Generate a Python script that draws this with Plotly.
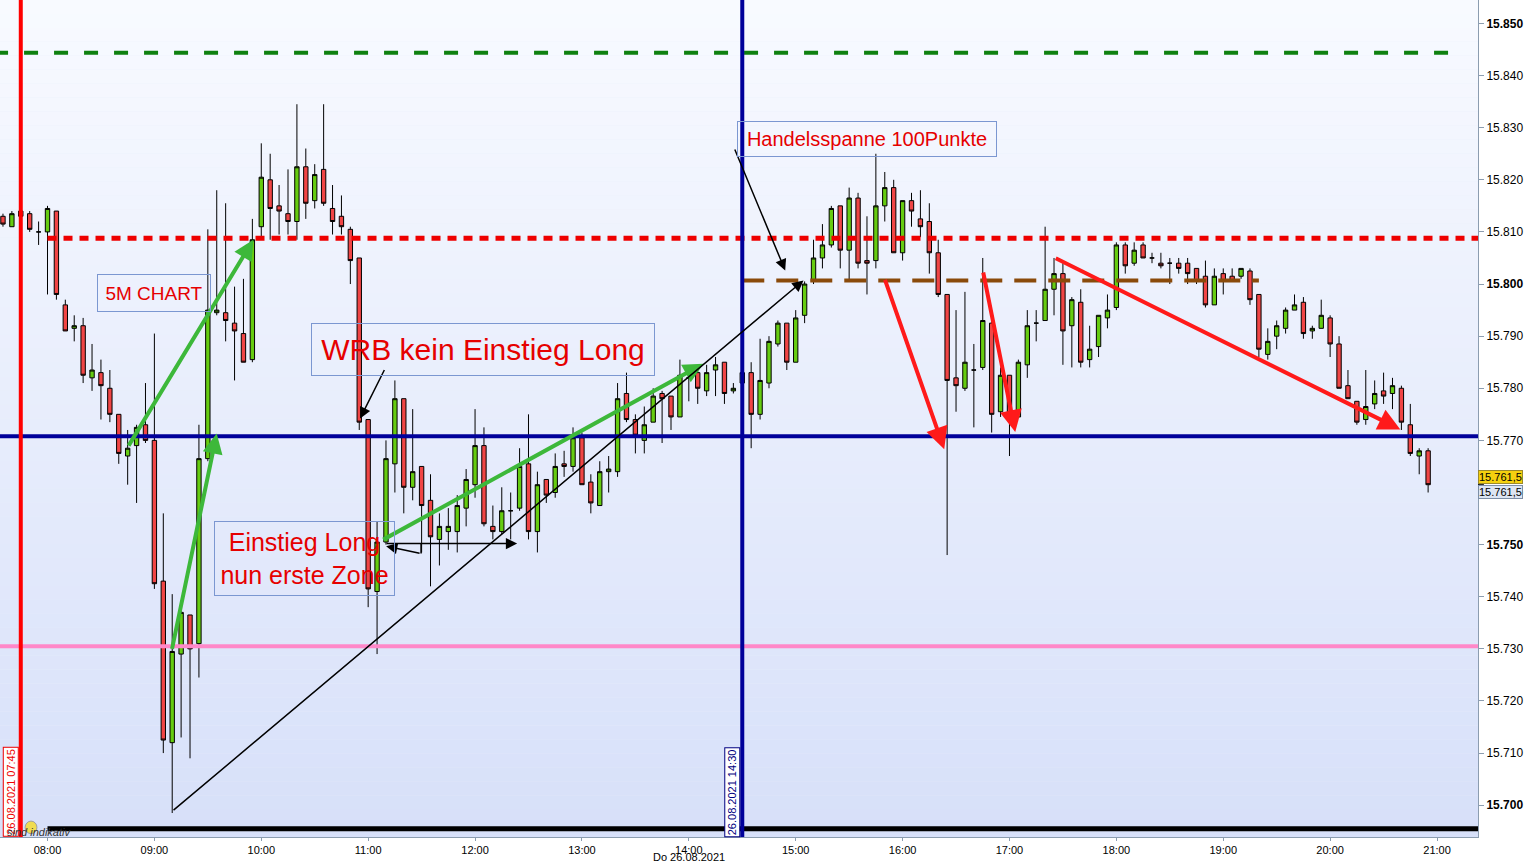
import pandas as pd
import plotly.graph_objects as go

DAY = "2021-08-26 "
FONT = "Liberation Sans, Arial, sans-serif"

# 5-Minuten-Kerzen 26.08.2021, erste Kerze 07:35, letzte 20:55
opens = [15813, 15811, 15814, 15813.5, 15810, 15810, 15814, 15796, 15791.5, 15792,
         15782, 15783, 15780, 15775, 15767, 15769, 15773, 15770, 15743, 15712,
         15729, 15736.5, 15731, 15766.5, 15794.5, 15794.5, 15792.5, 15790.5, 15785.5, 15811,
         15820, 15815, 15813.5, 15812, 15822.5, 15816, 15822, 15814.5, 15813, 15810.5,
         15805, 15774, 15741, 15750.5, 15765.5, 15778, 15761, 15765, 15758.5, 15751,
         15752.5, 15752.5, 15757, 15761.5, 15769, 15753.5, 15752.5, 15756.5, 15757, 15765.5,
         15752.5, 15762.5, 15760, 15765.5, 15765, 15770.5, 15762, 15757.5, 15764, 15764,
         15779, 15774, 15770, 15773.5, 15779, 15778.5, 15774.5, 15782, 15783, 15779.5,
         15783.5, 15785, 15779.5, 15781, 15783, 15775, 15781, 15788.5, 15792.5, 15785,
         15794, 15800.5, 15805, 15807.5, 15815, 15806.5, 15816.5, 15804.5, 15804.5, 15815,
         15818.5, 15806, 15816, 15812.5, 15812, 15806, 15798, 15782, 15780, 15783.5,
         15784, 15792.5, 15775.5, 15782.5, 15774.5, 15784.5, 15792.5, 15793, 15799, 15802,
         15792, 15796.5, 15785.5, 15788, 15793.5, 15795.5, 15807.5, 15804, 15807.5, 15805,
         15804, 15804, 15804, 15804, 15803, 15801.5, 15796, 15802, 15801.5, 15801.5,
         15802.5, 15798, 15786.5, 15790, 15791.5, 15795, 15796.5, 15791, 15791.5, 15793.5,
         15788.5, 15780.5, 15777.5, 15774, 15777, 15779.5, 15779, 15780, 15773, 15767,
         15768]
highs = [15813.5, 15814, 15814, 15814, 15812, 15815, 15814, 15797, 15794, 15793.5,
         15788.5, 15785.5, 15783.5, 15775, 15772, 15773, 15781, 15790.5, 15756, 15740.5,
         15737.5, 15736.5, 15773, 15810.5, 15818, 15815.5, 15799.5, 15801, 15812.5, 15827,
         15825, 15819, 15822, 15834.5, 15826, 15823, 15834.5, 15819, 15817, 15811,
         15805, 15774, 15754.5, 15770, 15781.5, 15778, 15776, 15765, 15763.5, 15756,
         15757, 15759.5, 15764.5, 15776, 15772.5, 15757.5, 15761, 15760, 15768.5, 15775,
         15764, 15762.5, 15767.5, 15768, 15772.5, 15771.5, 15763.5, 15766, 15767, 15781,
         15783, 15775, 15776.5, 15780, 15779.5, 15778.5, 15785.5, 15784, 15784, 15784.5,
         15786, 15785, 15781, 15783.5, 15785, 15789.5, 15790, 15793, 15792.5, 15795,
         15800.5, 15808.5, 15811.5, 15815, 15815, 15818.5, 15817.5, 15813, 15825, 15821.5,
         15820, 15816, 15817.5, 15818, 15815.5, 15808.5, 15798, 15795, 15798.5, 15788.5,
         15805, 15793, 15784, 15782.5, 15785.5, 15795, 15795, 15811, 15805, 15804,
         15797.5, 15799, 15792, 15794, 15798, 15808, 15808, 15808, 15808, 15806,
         15806, 15805, 15805, 15805, 15803, 15804.5, 15803, 15803, 15803, 15803,
         15803, 15798, 15791.5, 15793, 15795.5, 15798, 15797.5, 15792, 15797, 15794,
         15790, 15783.5, 15777.5, 15783.5, 15781.5, 15783, 15782, 15780.5, 15777, 15768.5,
         15768.5]
lows = [15811, 15811, 15813, 15810, 15807.5, 15798, 15797, 15791, 15789, 15781,
        15779.5, 15774, 15773.5, 15765.5, 15761.5, 15758, 15769.5, 15741.5, 15710, 15698.5,
        15713, 15709, 15724.5, 15766, 15794, 15789, 15781.5, 15785, 15785, 15809,
        15808.5, 15809.5, 15809.5, 15808.5, 15812.5, 15814.5, 15815, 15809.5, 15809.5, 15800,
        15772, 15738, 15729, 15750, 15760, 15756, 15758.5, 15748.5, 15742, 15746,
        15749, 15748.5, 15753.5, 15759, 15753.5, 15751, 15752, 15751, 15756.5, 15751,
        15748.5, 15758, 15759, 15763, 15764, 15761.5, 15756, 15757.5, 15760, 15763,
        15773.5, 15767.5, 15767.5, 15773.5, 15769.5, 15772, 15774.5, 15777.5, 15777, 15778.5,
        15778.5, 15777, 15779, 15780, 15768.5, 15774, 15780, 15788, 15783.5, 15785,
        15792.5, 15800, 15803, 15807, 15803, 15800.5, 15803, 15798, 15803, 15812,
        15806, 15804.5, 15811, 15809, 15802, 15797.5, 15748, 15775.5, 15779.5, 15772.5,
        15783.5, 15771.5, 15774.5, 15767, 15774.5, 15782, 15789, 15793, 15794, 15784.5,
        15784, 15784, 15784, 15786, 15791.5, 15795, 15802, 15803.5, 15805, 15804,
        15803, 15800, 15802, 15800, 15800, 15795.5, 15796, 15798, 15800.5, 15801,
        15796, 15786, 15785.5, 15787.5, 15790.5, 15795, 15789.5, 15789.5, 15791.5, 15786,
        15780, 15778, 15773, 15773, 15776, 15777, 15776, 15772, 15767, 15763.5,
        15760]
closes = [15811.5, 15813.5, 15813, 15810.5, 15810, 15814.5, 15798, 15791, 15792, 15782.5,
          15783.5, 15780.5, 15775, 15767.5, 15768.5, 15772.5, 15770, 15742.5, 15712.5, 15729.5,
          15737, 15730, 15766.5, 15795, 15795, 15793, 15791, 15785, 15808.5, 15820.5,
          15814.5, 15814, 15812, 15822.5, 15815.5, 15821, 15815.5, 15812, 15811, 15804.5,
          15773.5, 15741.5, 15750.5, 15766.5, 15778, 15761, 15764, 15757.5, 15751.5, 15753.5,
          15753.5, 15757.5, 15762.5, 15769, 15754, 15752.5, 15756.5, 15756.5, 15765, 15752.5,
          15761.5, 15759.5, 15765, 15765, 15770.5, 15761.5, 15758, 15764, 15764.5, 15778,
          15774, 15771, 15773, 15778.5, 15778, 15774.5, 15782.5, 15782, 15780, 15783,
          15784.5, 15779, 15780, 15783, 15775, 15781.5, 15789, 15792.5, 15785, 15793.5,
          15800, 15805, 15807.5, 15814.5, 15806.5, 15816.5, 15804, 15804, 15815, 15818.5,
          15806, 15816, 15814, 15811, 15806, 15798, 15781.5, 15780.5, 15785, 15783.5,
          15793, 15775, 15782.5, 15775, 15785, 15792, 15792.5, 15799, 15802, 15791,
          15797, 15785, 15787.5, 15794, 15795, 15807.5, 15803.5, 15806.5, 15805, 15805,
          15803.5, 15804, 15803, 15802, 15800.5, 15796, 15801.5, 15800.5, 15800.5, 15803,
          15797, 15787.5, 15789, 15792, 15795, 15796, 15790.5, 15791.5, 15794, 15788.5,
          15780, 15778, 15773.5, 15776.5, 15779, 15778.5, 15780.5, 15773.5, 15767.5, 15768,
          15761.5]
bar_times = pd.date_range(DAY + "07:35", periods=len(opens), freq="5min")

# horizontale Linien
level_prices = [15844.4, 15808.8, 15800.7, 15770.8, 15730.5, 15695.5]
level_start = ["07:30", "08:00", "14:30", "07:30", "07:30", "08:00"]
level_end = ["21:11", "21:30", "19:20", "21:30", "21:30", "21:30"]
level_colours = ["#0f800f", "#ee0000", "#8a4a0a", "#00009a", "#ff88c8", "#000000"]
level_widths = [4, 5, 4, 4, 4, 5]
level_dashes = ["14px,16px", "9px,7px", "22px,12px", "solid", "solid", "solid"]

# vertikale Markierungen
marker_times = ["07:45", "14:30"]
marker_colours = ["#ff0000", "#00009a"]
marker_labels = ["26.08.2021 07:45", "26.08.2021 14:30"]
marker_text_colours = ["#ee0000", "#000080"]

# Pfeile: (Startzeit, Startkurs, Endzeit, Endkurs)
green_arrows = [("08:45:02", 15768.7, "09:55:33", 15808.5),
                ("09:09:44", 15729.7, "09:35:00", 15771.3),
                ("11:07:38", 15750.8, "14:08:13", 15784.7)]
red_arrows = [("15:49:50", 15801.1, "16:23:22", 15768.3),
              ("16:45:06", 15802.5, "17:03:14", 15771.6),
              ("17:25:08", 15805.1, "20:39:24", 15772.1)]
black_arrows = [("09:09:54", 15698.8, "15:04:22", 15800.7),
                ("14:25:28", 15826.1, "14:54:06", 15802.6),
                ("11:09:30", 15783.8, "10:55:28", 15774.2),
                ("11:09:30", 15750.2, "12:23:37", 15750.2),
                ("11:29:42", 15748.3, "11:10:04", 15749.7)]
black_segments = [("11:29:42", 15750.2, "11:29:42", 15748.3)]

# Textfelder
box_texts = ["5M CHART", "WRB kein Einstieg Long", "Einstieg Long<br>nun erste Zone",
             "Handelsspanne 100Punkte"]
box_times = ["08:59:48", "12:04:30", "10:24:18", "15:40:06"]
box_prices = [15798.2, 15787.4, 15747.3, 15827.8]
box_widths = [114, 344, 181, 260]
box_heights = [38, 53, 75, 36]
box_font_sizes = [19, 30, 25, 20]

hour_ticks = ["08:00", "09:00", "10:00", "11:00", "12:00", "13:00", "14:00",
              "15:00", "16:00", "17:00", "18:00", "19:00", "20:00", "21:00"]
y_ticks = [15700, 15710, 15720, 15730, 15740, 15750, 15760, 15770, 15780,
           15790, 15800, 15810, 15820, 15830, 15840, 15850]


def de_number(value, decimals=0):
    """Zahl im deutschen Format, z.B. 15.761,5"""
    s = f"{value:,.{decimals}f}"
    return s.replace(",", "X").replace(".", ",").replace("X", ".")


y_labels = []
for v in y_ticks:
    if v % 50 == 0:
        y_labels.append("<b>" + de_number(v) + "</b>")
    else:
        y_labels.append(de_number(v))

fig = go.Figure()

# Hintergrundverlauf
top_rgb = (248, 250, 255)
bottom_rgb = (215, 224, 249)
n_bands = 60
for i in range(n_bands):
    f = i / (n_bands - 1)
    rgb = [round(top_rgb[k] + (bottom_rgb[k] - top_rgb[k]) * f) for k in range(3)]
    fig.add_shape(type="rect", xref="paper", yref="paper", x0=0, x1=1,
                  y0=1 - (i + 1) / n_bands, y1=1 - i / n_bands,
                  fillcolor="rgb(%d,%d,%d)" % tuple(rgb), line_width=0, layer="below")

fig.add_trace(go.Candlestick(x=bar_times, open=opens, high=highs, low=lows, close=closes,
                             increasing=dict(fillcolor="#66cc11", line=dict(color="black", width=1)),
                             decreasing=dict(fillcolor="#f04545", line=dict(color="black", width=1)),
                             whiskerwidth=0, hoverinfo="x+y"))

# Linien
for p, t0, t1, col, w, d in zip(level_prices, level_start, level_end, level_colours,
                                level_widths, level_dashes):
    fig.add_shape(type="line", xref="x", yref="y", x0=DAY + t0, x1=DAY + t1, y0=p, y1=p,
                  line=dict(color=col, width=w, dash=d))

for t, col in zip(marker_times, marker_colours):
    fig.add_shape(type="line", xref="x", yref="paper", x0=DAY + t, x1=DAY + t, y0=0, y1=1,
                  line=dict(color=col, width=4))

for t0, p0, t1, p1 in black_segments:
    fig.add_shape(type="line", xref="x", yref="y", x0=DAY + t0, x1=DAY + t1, y0=p0, y1=p1,
                  line=dict(color="black", width=1.5))


def add_arrows(arrows, colour, width, size):
    for t0, p0, t1, p1 in arrows:
        fig.add_annotation(x=DAY + t1, y=p1, ax=DAY + t0, ay=p0,
                           xref="x", yref="y", axref="x", ayref="y",
                           text="", showarrow=True, arrowhead=2, arrowsize=size,
                           arrowwidth=width, arrowcolor=colour, standoff=0)


add_arrows(green_arrows, "#3db83a", 4, 1)
add_arrows(red_arrows, "#ff1a1a", 4, 1.1)
add_arrows(black_arrows, "black", 1.5, 1.5)

for txt, t, p, w, h, fs in zip(box_texts, box_times, box_prices, box_widths, box_heights,
                               box_font_sizes):
    fig.add_annotation(x=DAY + t, y=p, text=txt, showarrow=False,
                       font=dict(family=FONT, size=fs, color="#e60000"),
                       bordercolor="#7b97d1", borderwidth=1, borderpad=0,
                       width=w - 2, height=h - 2, align="center", valign="middle",
                       xanchor="center", yanchor="middle")

# senkrechte Datumsfelder an den Markierungen
for t, lab, col in zip(marker_times, marker_labels, marker_text_colours):
    fig.add_annotation(x=DAY + t, y=0, xref="x", yref="paper", xanchor="right",
                       yanchor="bottom", xshift=-2, text=lab, textangle=-90, showarrow=False,
                       font=dict(family=FONT, size=11, color=col), bgcolor="white",
                       bordercolor=col, borderwidth=1, borderpad=1)

fig.add_annotation(x=DAY + "14:00", y=0, xref="x", yref="paper", yanchor="middle", yshift=-20,
                   text="Do 26.08.2021", showarrow=False,
                   font=dict(family=FONT, size=11, color="black"))

fig.add_annotation(x=0.0034, y=0.006, xref="paper", yref="paper", xanchor="left",
                   yanchor="middle", text="<i>sind indikativ</i>", showarrow=False,
                   font=dict(family=FONT, size=11, color="#333333"))
fig.add_shape(type="circle", xref="paper", yref="paper", x0=0.0170, x1=0.0250, y0=0.004,
              y1=0.019, fillcolor="#f0dc50", line=dict(color="#a0a0a0", width=1))

# Kursfelder am rechten Rand
last = closes[-1]
fig.add_annotation(x=1, y=last, xref="paper", yref="y", xanchor="left", yanchor="middle",
                   yshift=7.5, text=de_number(last, 1), showarrow=False,
                   font=dict(family=FONT, size=11, color="black"),
                   bgcolor="#f5d10f", bordercolor="#9c8a2a", borderwidth=1, borderpad=0)
fig.add_annotation(x=1, y=last, xref="paper", yref="y", xanchor="left", yanchor="middle",
                   yshift=-7, text=de_number(last, 1), showarrow=False,
                   font=dict(family=FONT, size=11, color="black"),
                   bgcolor="#dce5f3", bordercolor="#7c8ea6", borderwidth=1, borderpad=0)
fig.add_shape(type="line", xref="paper", yref="y", x0=1, x1=1.004, y0=last, y1=last,
              line=dict(color="black", width=1))

fig.update_layout(width=1529, height=863, margin=dict(l=0, r=51, t=0, b=26),
                  paper_bgcolor="white", plot_bgcolor="#e8eefb", showlegend=False,
                  font=dict(family=FONT, size=11, color="black"))
fig.update_xaxes(type="date", range=[DAY + "07:33:20", DAY + "21:23:00"],
                 rangeslider_visible=False,
                 tickvals=[DAY + h for h in hour_ticks], ticktext=hour_ticks,
                 ticks="outside", ticklen=3, tickcolor="#8c9db0",
                 showline=True, linecolor="#8c9db0", linewidth=1,
                 showgrid=False, zeroline=False)
fig.update_yaxes(side="right", range=[15693.9, 15854.5], tickvals=y_ticks, ticktext=y_labels,
                 ticks="outside", ticklen=5, tickcolor="#8c9db0", tickfont_size=12,
                 showline=True, linecolor="#8c9db0", linewidth=1,
                 showgrid=False, zeroline=False)

# Seitenrand des Browsers entfernen, damit die Grafik bei (0,0) beginnt
fig.write_html("out.html", config={"displayModeBar": False},
               post_script="document.body.style.margin='0';")
